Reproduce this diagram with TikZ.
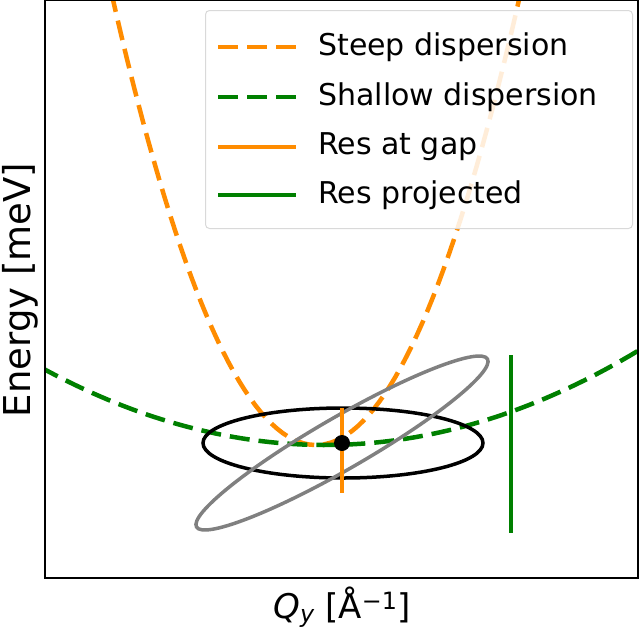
\documentclass[tikz,border=0pt]{standalone}
\usepackage{fontspec}
\setmainfont{DejaVu Sans}
\begin{document}
\begin{tikzpicture}[x=1pt,y=-1pt,
  curve/.style={line width=4.5pt},
  dsh/.style={curve,dash pattern=on 20pt off 9pt},
  lbl/.style={font=\fontsize{30}{34}\selectfont,anchor=west,inner sep=0pt}]
\definecolor{orng}{RGB}{255,140,0}
\definecolor{grn}{RGB}{0,128,0}
\useasboundingbox (0,0) rectangle (640,635);
\begin{scope}
\clip (45,0) rectangle (638,578);
\draw[dsh,orng] plot[domain=105:530,samples=80] (\x,{445-0.0108*(\x-316)*(\x-316)});
\draw[dsh,grn] plot[domain=40:645,samples=80] (\x,{445-0.00096*(\x-325)*(\x-325)});
\end{scope}
\draw[line width=3.5pt] (343,443) ellipse [x radius=140,y radius=35];
\draw[line width=3.5pt,gray] (342,443) ellipse [x radius=168,y radius=26,rotate=30];
\coordinate (ot) at (342,408); \coordinate (ob) at (342,493);
\draw[orng,line width=3.2pt] (ot) -- (ob);
\coordinate (gt) at (511,355); \coordinate (gb) at (511,533);
\draw[grn,line width=3.2pt] (gt) -- (gb);
\node[circle,fill=black,minimum size=16pt,inner sep=0pt] (dot) at (342,443) {};
\draw[line width=1.5pt] (45,0) rectangle (638,578);
% legend
\node[draw=black!15,line width=1pt,fill=white,fill opacity=0.85,rounded corners=4pt,minimum width=427pt,minimum height=218pt,anchor=north west] (leg) at (205,10) {};
\draw[dsh,orng] (218,47) -- (296,47);
\draw[dsh,grn] (218,97) -- (296,97);
\draw[orng,line width=3.2pt] (218,147) -- (296,147);
\draw[grn,line width=3.2pt] (218,195) -- (296,195);
\node[lbl] (l1) at (318,47) {Steep dispersion};
\node[lbl] (l2) at (318,97) {Shallow dispersion};
\node[lbl] (l3) at (318,147) {Res at gap};
\node[lbl] (l4) at (318,195) {Res projected};
\node[font=\fontsize{37}{40}\selectfont,rotate=90] (yl) at (20,290) {Energy [meV]};
\node[font=\fontsize{34}{38}\selectfont] (xl) at (342,607) {{\itshape Q}\textsubscript{\itshape y} [Å\textsuperscript{−1}]};
\end{tikzpicture}
\end{document}
